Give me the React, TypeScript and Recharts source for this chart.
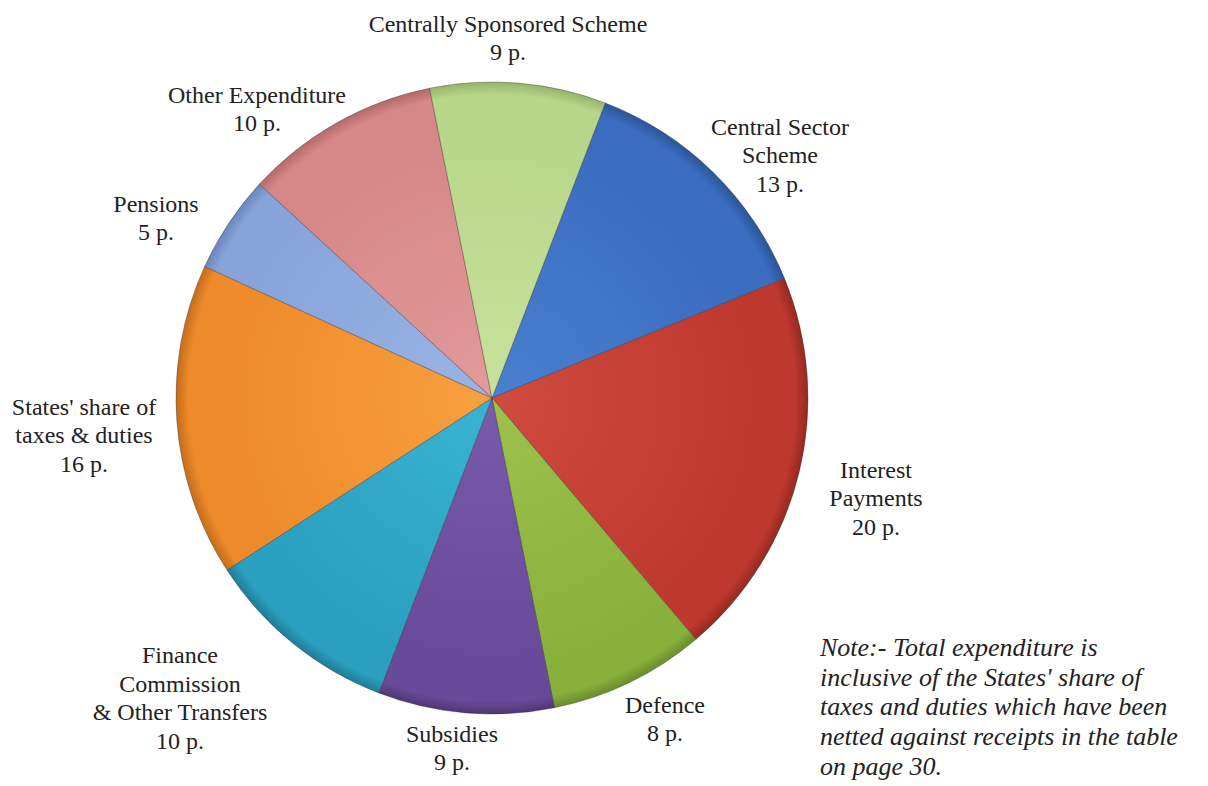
import React from "react";
import { PieChart, Pie, Cell } from "recharts";

const categories: string[][] = [
  ["Central Sector", "Scheme"],
  ["Interest", "Payments"],
  ["Defence"],
  ["Subsidies"],
  ["Finance", "Commission", "& Other Transfers"],
  ["States' share of", "taxes & duties"],
  ["Pensions"],
  ["Other Expenditure"],
  ["Centrally Sponsored Scheme"],
];
const values: number[] = [13, 20, 8, 9, 10, 16, 5, 10, 9];
const valueLabels: string[] = ["13 p.", "20 p.", "8 p.", "9 p.", "10 p.", "16 p.", "5 p.", "10 p.", "9 p."];

const noteLines: string[] = [
  "Note:- Total expenditure is",
  "inclusive of the States' share of",
  "taxes and duties which have been",
  "netted against receipts in the table",
  "on page 30.",
];

// styling / layout (not data)
const COLORS = [
  ["#4a80d0", "#3a6cbf", "#2b5596"],
  ["#d04a3e", "#be382e", "#952a22"],
  ["#9cc24c", "#88b13b", "#6a8b2c"],
  ["#7a5aab", "#684a98", "#4f3776"],
  ["#3ab3d2", "#2a9fc0", "#1f7c97"],
  ["#f8a040", "#ef8a2a", "#c46d1c"],
  ["#9ab4e4", "#87a3d9", "#6a86bb"],
  ["#e29a9a", "#d68787", "#b36a6a"],
  ["#c8e29c", "#b8d68a", "#95b56a"],
];
// label block offsets relative to pie center (text center x, mid baseline y)
const LABEL_OFFSETS: [number, number][] = [
  [288, -235],
  [384, 108],
  [173, 329],
  [-40, 358],
  [-312, 308],
  [-408, 45],
  [-336, -172],
  [-235, -281],
  [16, -352],
];
const LINE_H = 28.5;
const FONT = "Liberation Serif, Tinos, Times New Roman, Times, DejaVu Serif, serif";

const data = values.map((v, i) => ({ name: categories[i].join(" "), value: v }));

const MARGIN = 5;
const CX = 479;
const CY = 385;
const R = 316;

const renderLabel = (props: any) => {
  const { cx, cy, index } = props;
  const lines = [...categories[index], valueLabels[index]];
  const [dx, dy] = LABEL_OFFSETS[index];
  const n = lines.length;
  const x = cx + dx;
  const midY = cy + dy;
  return (
    <text
      key={`lbl-${index}`}
      x={x}
      textAnchor="middle"
      style={{ fontFamily: FONT, fontSize: 24 }}
      fill="#222"
    >
      {lines.map((l, i) => (
        <tspan key={i} x={x} y={midY + (i - (n - 1) / 2) * LINE_H}>
          {l}
        </tspan>
      ))}
    </text>
  );
};

export default function App() {
  return (
    <div style={{ position: "relative", width: 1200, height: 778 }}>
      <svg width={0} height={0} style={{ position: "absolute" }}>
        <defs>
          {COLORS.map((c, i) => (
            <radialGradient
              key={i}
              id={`g${i}`}
              gradientUnits="userSpaceOnUse"
              cx={CX + MARGIN}
              cy={CY + MARGIN}
              r={R}
            >
              <stop offset="0%" stopColor={c[0]} />
              <stop offset="85%" stopColor={c[1]} />
              <stop offset="96%" stopColor={c[1]} />
              <stop offset="100%" stopColor={c[2]} />
            </radialGradient>
          ))}
        </defs>
      </svg>
      <PieChart width={1200} height={778} margin={{ top: MARGIN, right: MARGIN, bottom: MARGIN, left: MARGIN }}>
        <Pie
          data={data}
          dataKey="value"
          nameKey="name"
          cx={CX}
          cy={CY}
          outerRadius={R}
          startAngle={69}
          endAngle={-291}
          stroke="rgba(40,40,40,0.35)"
          strokeWidth={1}
          label={renderLabel}
          labelLine={false}
          isAnimationActive={false}
        >
          {data.map((_, i) => (
            <Cell key={i} fill={`url(#g${i})`} />
          ))}
        </Pie>
      </PieChart>
      <svg
        width={1200}
        height={778}
        style={{ position: "absolute", left: 0, top: 0, pointerEvents: "none" }}
      >
        <text style={{ fontFamily: FONT, fontSize: 26, fontStyle: "italic" }} fill="#222">
          {noteLines.map((l, i) => (
            <tspan key={i} x={812} y={648 + i * 29.7}>
              {l}
            </tspan>
          ))}
        </text>
      </svg>
    </div>
  );
}
